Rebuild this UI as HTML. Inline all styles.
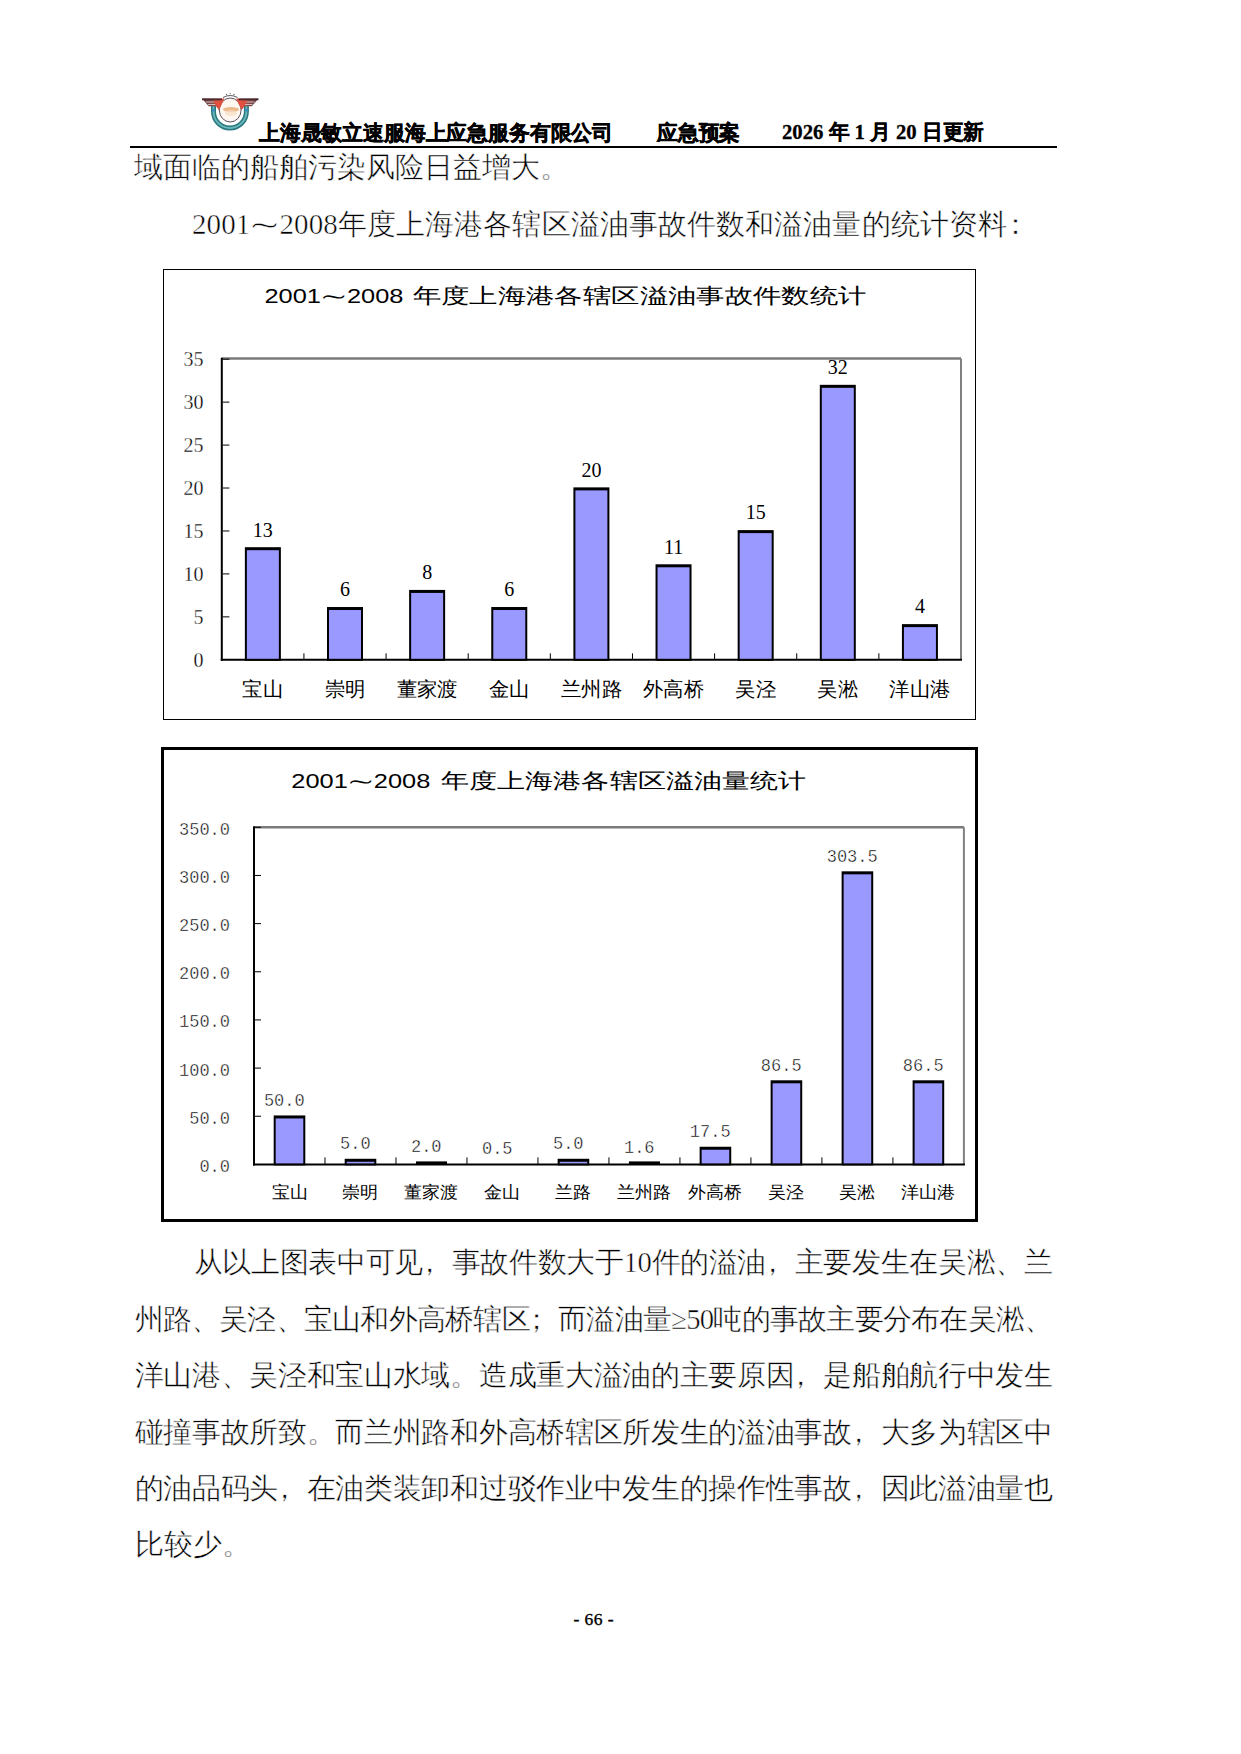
<!DOCTYPE html><html><head><meta charset="utf-8"><style>html,body{margin:0;padding:0;background:#fff;width:1241px;height:1754px;overflow:hidden}svg{display:block}</style></head><body>
<svg width="1241" height="1754" viewBox="0 0 1241 1754">
<g id="logo">
<defs><linearGradient id="wl" x1="0" x2="1" y1="0" y2="0"><stop offset="0" stop-color="#5a3a3e"/><stop offset="0.45" stop-color="#8a4a48"/><stop offset="1" stop-color="#e85a48"/></linearGradient>
<linearGradient id="wr" x1="1" x2="0" y1="0" y2="0"><stop offset="0" stop-color="#5a3a3e"/><stop offset="0.45" stop-color="#8a4a48"/><stop offset="1" stop-color="#e85a48"/></linearGradient></defs>
<path d="M213.5 105 L213.5 111.5 A16.45 16.6 0 0 0 246.4 111.5 L246.4 105" fill="none" stroke="#2a7a80" stroke-width="5"/>
<path d="M213.5 106 L213.5 111.5 A16.45 16.6 0 0 0 246.4 111.5 L246.4 106" fill="none" stroke="#6cb8bc" stroke-width="1.8"/>
<circle cx="213.4" cy="110.3" r="1.3" fill="#3a8cc8"/>
<circle cx="246.6" cy="110.3" r="1.3" fill="#3a8cc8"/>
<ellipse cx="230.2" cy="110" rx="10.9" ry="12" fill="#fdf7ef" stroke="#5a5060" stroke-width="1"/>
<ellipse cx="231" cy="109.5" rx="8" ry="2.6" fill="#e8b07c" opacity="0.85"/>
<ellipse cx="231" cy="113" rx="6" ry="3" fill="#f6dcc0" opacity="0.7"/>
<path d="M202 98.5 L224.5 98.5 L219 110 L216 106.3 L208.7 106.3 Z" fill="url(#wl)"/>
<path d="M206 102 L214.5 102 M208 104.5 L215.5 104.5" stroke="#d8cccc" stroke-width="0.9"/>
<path d="M213 100.5 L223 100.5 L218.8 109.5 Z" fill="#e5503e" opacity="0.9"/>
<path d="M258.5 98.5 L236 98.5 L241.5 110 L244.5 106.3 L251.8 106.3 Z" fill="url(#wr)"/>
<path d="M254.5 102 L246 102 M252.5 104.5 L245 104.5" stroke="#d8cccc" stroke-width="0.9"/>
<path d="M247.5 100.5 L237.5 100.5 L241.7 109.5 Z" fill="#e5503e" opacity="0.9"/>
<path d="M202 99.3 L222 99.3 M238.5 99.3 L258.5 99.3" stroke="#4a2a2e" stroke-width="1.8"/>
<path d="M223 97.5 Q230.2 93.5 237.5 97.5" fill="none" stroke="#555" stroke-width="1"/>
<circle cx="226.5" cy="94.5" r="0.7" fill="#666"/><circle cx="230.2" cy="93.6" r="0.7" fill="#666"/><circle cx="234" cy="94.5" r="0.7" fill="#666"/>
</g>
<text x="259" y="139.5" font-family="Liberation Serif, serif" font-size="21" font-weight="bold" stroke="#000" stroke-width="0.5" textLength="354" lengthAdjust="spacingAndGlyphs">上海晟敏立速服海上应急服务有限公司</text>
<text x="657" y="139.5" font-family="Liberation Serif, serif" font-size="21" font-weight="bold" stroke="#000" stroke-width="0.5" textLength="83" lengthAdjust="spacingAndGlyphs">应急预案</text>
<text x="782" y="139" font-family="Liberation Serif, serif" font-size="21" font-weight="bold" stroke="#000" stroke-width="0.3" textLength="202" lengthAdjust="spacingAndGlyphs">2026 年 1 月 20 日更新</text>
<rect x="130" y="146" width="927" height="2" fill="#000"/>
<text x="134" y="176.7" font-family="Liberation Serif, serif" font-size="29" stroke="#fff" stroke-width="0.5" textLength="435" lengthAdjust="spacing">域面临的船舶污染风险日益增大。</text>
<text x="192" y="234" font-family="Liberation Serif, serif" font-size="29" stroke="#fff" stroke-width="0.5" textLength="838" lengthAdjust="spacing">2001⁓2008年度上海港各辖区溢油事故件数和溢油量的统计资料<tspan dx="-6">：</tspan></text>
<text x="193.7" y="1272.3" font-family="Liberation Serif, serif" font-size="28.7" stroke="#fff" stroke-width="0.5" textLength="859.3" lengthAdjust="spacing">从以上图表中可见<tspan dx="-8.0">，</tspan><tspan dx="8.0">事</tspan>故件数大于10件的溢油<tspan dx="-8.0">，</tspan><tspan dx="8.0">主</tspan>要发生在吴淞、兰</text>
<text x="134.5" y="1328.7" font-family="Liberation Serif, serif" font-size="28.7" stroke="#fff" stroke-width="0.5" textLength="918.5" lengthAdjust="spacing">州路、吴泾、宝山和外高桥辖区<tspan dx="-8.0">；</tspan><tspan dx="8.0">而</tspan>溢油量≥50吨的事故主要分布在吴淞、</text>
<text x="134.5" y="1385.1" font-family="Liberation Serif, serif" font-size="28.7" stroke="#fff" stroke-width="0.5" textLength="918.5" lengthAdjust="spacing">洋山港、吴泾和宝山水域。造成重大溢油的主要原因<tspan dx="-8.0">，</tspan><tspan dx="8.0">是</tspan>船舶航行中发生</text>
<text x="134.5" y="1441.5" font-family="Liberation Serif, serif" font-size="28.7" stroke="#fff" stroke-width="0.5" textLength="918.5" lengthAdjust="spacing">碰撞事故所致。而兰州路和外高桥辖区所发生的溢油事故<tspan dx="-8.0">，</tspan><tspan dx="8.0">大</tspan>多为辖区中</text>
<text x="134.5" y="1497.9" font-family="Liberation Serif, serif" font-size="28.7" stroke="#fff" stroke-width="0.5" textLength="918.5" lengthAdjust="spacing">的油品码头<tspan dx="-8.0">，</tspan><tspan dx="8.0">在</tspan>油类装卸和过驳作业中发生的操作性事故<tspan dx="-8.0">，</tspan><tspan dx="8.0">因</tspan>此溢油量也</text>
<text x="134.5" y="1554.3" font-family="Liberation Serif, serif" font-size="28.7" stroke="#fff" stroke-width="0.5">比较少。</text>
<text x="573.5" y="1625" font-family="Liberation Serif, serif" font-size="17.5" stroke="#000" stroke-width="0.35" textLength="40" lengthAdjust="spacing">- 66 -</text>
<rect x="163.5" y="269.5" width="812" height="450" fill="none" stroke="#000" stroke-width="1"/>
<text x="264.5" y="303" font-family="Liberation Sans, sans-serif" font-size="20.5" textLength="139" lengthAdjust="spacingAndGlyphs">2001⁓2008</text>
<text x="412.5" y="303" font-family="Liberation Sans, sans-serif" font-size="21" textLength="454" lengthAdjust="spacingAndGlyphs">年度上海港各辖区溢油事故件数统计</text>
<line x1="221.8" y1="358.5" x2="961.0" y2="358.5" stroke="#7a7a7a" stroke-width="2.6"/>
<line x1="961.0" y1="358.5" x2="961.0" y2="659.8" stroke="#808080" stroke-width="2"/>
<line x1="221.8" y1="357.7" x2="221.8" y2="660.8" stroke="#000" stroke-width="2"/>
<line x1="220.8" y1="659.8" x2="962.0" y2="659.8" stroke="#000" stroke-width="2"/>
<text x="203.5" y="666.5" font-family="Liberation Serif, serif" font-size="20" stroke="#fff" stroke-width="0.3" text-anchor="end">0</text>
<line x1="222.8" y1="616.86" x2="229.4" y2="616.86" stroke="#000" stroke-width="1"/>
<text x="203.5" y="623.56" font-family="Liberation Serif, serif" font-size="20" stroke="#fff" stroke-width="0.3" text-anchor="end">5</text>
<line x1="222.8" y1="573.91" x2="229.4" y2="573.91" stroke="#000" stroke-width="1"/>
<text x="203.5" y="580.61" font-family="Liberation Serif, serif" font-size="20" stroke="#fff" stroke-width="0.3" text-anchor="end">10</text>
<line x1="222.8" y1="530.97" x2="229.4" y2="530.97" stroke="#000" stroke-width="1"/>
<text x="203.5" y="537.67" font-family="Liberation Serif, serif" font-size="20" stroke="#fff" stroke-width="0.3" text-anchor="end">15</text>
<line x1="222.8" y1="488.03" x2="229.4" y2="488.03" stroke="#000" stroke-width="1"/>
<text x="203.5" y="494.73" font-family="Liberation Serif, serif" font-size="20" stroke="#fff" stroke-width="0.3" text-anchor="end">20</text>
<line x1="222.8" y1="445.09" x2="229.4" y2="445.09" stroke="#000" stroke-width="1"/>
<text x="203.5" y="451.79" font-family="Liberation Serif, serif" font-size="20" stroke="#fff" stroke-width="0.3" text-anchor="end">25</text>
<line x1="222.8" y1="402.14" x2="229.4" y2="402.14" stroke="#000" stroke-width="1"/>
<text x="203.5" y="408.84" font-family="Liberation Serif, serif" font-size="20" stroke="#fff" stroke-width="0.3" text-anchor="end">30</text>
<line x1="222.8" y1="359.2" x2="229.4" y2="359.2" stroke="#000" stroke-width="1"/>
<text x="203.5" y="365.9" font-family="Liberation Serif, serif" font-size="20" stroke="#fff" stroke-width="0.3" text-anchor="end">35</text>
<line x1="303.93" y1="653.3" x2="303.93" y2="659.8" stroke="#000" stroke-width="1"/>
<line x1="386.07" y1="653.3" x2="386.07" y2="659.8" stroke="#000" stroke-width="1"/>
<line x1="468.2" y1="653.3" x2="468.2" y2="659.8" stroke="#000" stroke-width="1"/>
<line x1="550.33" y1="653.3" x2="550.33" y2="659.8" stroke="#000" stroke-width="1"/>
<line x1="632.47" y1="653.3" x2="632.47" y2="659.8" stroke="#000" stroke-width="1"/>
<line x1="714.6" y1="653.3" x2="714.6" y2="659.8" stroke="#000" stroke-width="1"/>
<line x1="796.73" y1="653.3" x2="796.73" y2="659.8" stroke="#000" stroke-width="1"/>
<line x1="878.87" y1="653.3" x2="878.87" y2="659.8" stroke="#000" stroke-width="1"/>
<rect x="244.87" y="547.2" width="36" height="113.6" fill="#000"/>
<rect x="246.87" y="550.2" width="32" height="108.6" fill="#9999ff"/>
<text x="262.87" y="536.5" font-family="Liberation Serif, serif" font-size="20" text-anchor="middle">13</text>
<text x="262.87" y="696.2" font-family="Liberation Sans, sans-serif" font-size="20" text-anchor="middle" textLength="40.8" lengthAdjust="spacingAndGlyphs">宝山</text>
<rect x="327" y="607.02" width="36" height="53.78" fill="#000"/>
<rect x="329" y="610.02" width="32" height="48.78" fill="#9999ff"/>
<text x="345" y="596.32" font-family="Liberation Serif, serif" font-size="20" text-anchor="middle">6</text>
<text x="345" y="696.2" font-family="Liberation Sans, sans-serif" font-size="20" text-anchor="middle" textLength="40.8" lengthAdjust="spacingAndGlyphs">崇明</text>
<rect x="409.13" y="589.93" width="36" height="70.87" fill="#000"/>
<rect x="411.13" y="592.93" width="32" height="65.87" fill="#9999ff"/>
<text x="427.13" y="579.23" font-family="Liberation Serif, serif" font-size="20" text-anchor="middle">8</text>
<text x="427.13" y="696.2" font-family="Liberation Sans, sans-serif" font-size="20" text-anchor="middle" textLength="61.2" lengthAdjust="spacingAndGlyphs">董家渡</text>
<rect x="491.27" y="607.02" width="36" height="53.78" fill="#000"/>
<rect x="493.27" y="610.02" width="32" height="48.78" fill="#9999ff"/>
<text x="509.27" y="596.32" font-family="Liberation Serif, serif" font-size="20" text-anchor="middle">6</text>
<text x="509.27" y="696.2" font-family="Liberation Sans, sans-serif" font-size="20" text-anchor="middle" textLength="40.8" lengthAdjust="spacingAndGlyphs">金山</text>
<rect x="573.4" y="487.38" width="36" height="173.42" fill="#000"/>
<rect x="575.4" y="490.38" width="32" height="168.42" fill="#9999ff"/>
<text x="591.4" y="476.68" font-family="Liberation Serif, serif" font-size="20" text-anchor="middle">20</text>
<text x="591.4" y="696.2" font-family="Liberation Sans, sans-serif" font-size="20" text-anchor="middle" textLength="61.2" lengthAdjust="spacingAndGlyphs">兰州路</text>
<rect x="655.53" y="564.29" width="36" height="96.51" fill="#000"/>
<rect x="657.53" y="567.29" width="32" height="91.51" fill="#9999ff"/>
<text x="673.53" y="553.59" font-family="Liberation Serif, serif" font-size="20" text-anchor="middle">11</text>
<text x="673.53" y="696.2" font-family="Liberation Sans, sans-serif" font-size="20" text-anchor="middle" textLength="61.2" lengthAdjust="spacingAndGlyphs">外高桥</text>
<rect x="737.67" y="530.11" width="36" height="130.69" fill="#000"/>
<rect x="739.67" y="533.11" width="32" height="125.69" fill="#9999ff"/>
<text x="755.67" y="519.41" font-family="Liberation Serif, serif" font-size="20" text-anchor="middle">15</text>
<text x="755.67" y="696.2" font-family="Liberation Sans, sans-serif" font-size="20" text-anchor="middle" textLength="40.8" lengthAdjust="spacingAndGlyphs">吴泾</text>
<rect x="819.8" y="384.83" width="36" height="275.97" fill="#000"/>
<rect x="821.8" y="387.83" width="32" height="270.97" fill="#9999ff"/>
<text x="837.8" y="374.13" font-family="Liberation Serif, serif" font-size="20" text-anchor="middle">32</text>
<text x="837.8" y="696.2" font-family="Liberation Sans, sans-serif" font-size="20" text-anchor="middle" textLength="40.8" lengthAdjust="spacingAndGlyphs">吴淞</text>
<rect x="901.93" y="624.12" width="36" height="36.68" fill="#000"/>
<rect x="903.93" y="627.12" width="32" height="31.68" fill="#9999ff"/>
<text x="919.93" y="613.42" font-family="Liberation Serif, serif" font-size="20" text-anchor="middle">4</text>
<text x="919.93" y="696.2" font-family="Liberation Sans, sans-serif" font-size="20" text-anchor="middle" textLength="61.2" lengthAdjust="spacingAndGlyphs">洋山港</text>
<rect x="162.5" y="748.5" width="814" height="472" fill="none" stroke="#000" stroke-width="3"/>
<text x="291.3" y="788.2" font-family="Liberation Sans, sans-serif" font-size="20.5" textLength="139" lengthAdjust="spacingAndGlyphs">2001⁓2008</text>
<text x="441.3" y="788.2" font-family="Liberation Sans, sans-serif" font-size="21" textLength="364.5" lengthAdjust="spacingAndGlyphs">年度上海港各辖区溢油量统计</text>
<line x1="254.0" y1="827.3" x2="963.9" y2="827.3" stroke="#7a7a7a" stroke-width="2.4"/>
<line x1="963.9" y1="827.3" x2="963.9" y2="1164.4" stroke="#808080" stroke-width="2"/>
<line x1="254.0" y1="826.3" x2="254.0" y2="1165.4" stroke="#000" stroke-width="2"/>
<line x1="253.0" y1="1164.4" x2="964.9" y2="1164.4" stroke="#000" stroke-width="2"/>
<text x="230" y="1171.9" font-family="Liberation Mono, monospace" font-size="19" stroke="#fff" stroke-width="0.45" text-anchor="end" textLength="30.6" lengthAdjust="spacingAndGlyphs">0.0</text>
<line x1="255.0" y1="1116.24" x2="261.0" y2="1116.24" stroke="#000" stroke-width="1"/>
<text x="230" y="1123.74" font-family="Liberation Mono, monospace" font-size="19" stroke="#fff" stroke-width="0.45" text-anchor="end" textLength="40.8" lengthAdjust="spacingAndGlyphs">50.0</text>
<line x1="255.0" y1="1068.09" x2="261.0" y2="1068.09" stroke="#000" stroke-width="1"/>
<text x="230" y="1075.59" font-family="Liberation Mono, monospace" font-size="19" stroke="#fff" stroke-width="0.45" text-anchor="end" textLength="51" lengthAdjust="spacingAndGlyphs">100.0</text>
<line x1="255.0" y1="1019.93" x2="261.0" y2="1019.93" stroke="#000" stroke-width="1"/>
<text x="230" y="1027.43" font-family="Liberation Mono, monospace" font-size="19" stroke="#fff" stroke-width="0.45" text-anchor="end" textLength="51" lengthAdjust="spacingAndGlyphs">150.0</text>
<line x1="255.0" y1="971.77" x2="261.0" y2="971.77" stroke="#000" stroke-width="1"/>
<text x="230" y="979.27" font-family="Liberation Mono, monospace" font-size="19" stroke="#fff" stroke-width="0.45" text-anchor="end" textLength="51" lengthAdjust="spacingAndGlyphs">200.0</text>
<line x1="255.0" y1="923.61" x2="261.0" y2="923.61" stroke="#000" stroke-width="1"/>
<text x="230" y="931.11" font-family="Liberation Mono, monospace" font-size="19" stroke="#fff" stroke-width="0.45" text-anchor="end" textLength="51" lengthAdjust="spacingAndGlyphs">250.0</text>
<line x1="255.0" y1="875.46" x2="261.0" y2="875.46" stroke="#000" stroke-width="1"/>
<text x="230" y="882.96" font-family="Liberation Mono, monospace" font-size="19" stroke="#fff" stroke-width="0.45" text-anchor="end" textLength="51" lengthAdjust="spacingAndGlyphs">300.0</text>
<line x1="255.0" y1="827.3" x2="261.0" y2="827.3" stroke="#000" stroke-width="1"/>
<text x="230" y="834.8" font-family="Liberation Mono, monospace" font-size="19" stroke="#fff" stroke-width="0.45" text-anchor="end" textLength="51" lengthAdjust="spacingAndGlyphs">350.0</text>
<line x1="324.99" y1="1157.4" x2="324.99" y2="1164.4" stroke="#000" stroke-width="1"/>
<line x1="395.98" y1="1157.4" x2="395.98" y2="1164.4" stroke="#000" stroke-width="1"/>
<line x1="466.97" y1="1157.4" x2="466.97" y2="1164.4" stroke="#000" stroke-width="1"/>
<line x1="537.96" y1="1157.4" x2="537.96" y2="1164.4" stroke="#000" stroke-width="1"/>
<line x1="608.95" y1="1157.4" x2="608.95" y2="1164.4" stroke="#000" stroke-width="1"/>
<line x1="679.94" y1="1157.4" x2="679.94" y2="1164.4" stroke="#000" stroke-width="1"/>
<line x1="750.93" y1="1157.4" x2="750.93" y2="1164.4" stroke="#000" stroke-width="1"/>
<line x1="821.92" y1="1157.4" x2="821.92" y2="1164.4" stroke="#000" stroke-width="1"/>
<line x1="892.91" y1="1157.4" x2="892.91" y2="1164.4" stroke="#000" stroke-width="1"/>
<rect x="273.69" y="1115.45" width="31.6" height="49.95" fill="#000"/>
<rect x="275.69" y="1118.45" width="27.6" height="44.95" fill="#9999ff"/>
<text x="284.3" y="1106.05" font-family="Liberation Mono, monospace" font-size="19" stroke="#fff" stroke-width="0.45" text-anchor="middle" textLength="40.8" lengthAdjust="spacingAndGlyphs">50.0</text>
<text x="289.5" y="1198" font-family="Liberation Sans, sans-serif" font-size="17" text-anchor="middle" textLength="36" lengthAdjust="spacingAndGlyphs">宝山</text>
<rect x="344.69" y="1158.78" width="31.6" height="6.62" fill="#000"/>
<rect x="346.69" y="1161.78" width="27.6" height="1.62" fill="#9999ff"/>
<text x="355.29" y="1149.38" font-family="Liberation Mono, monospace" font-size="19" stroke="#fff" stroke-width="0.45" text-anchor="middle" textLength="30.6" lengthAdjust="spacingAndGlyphs">5.0</text>
<text x="360.49" y="1198" font-family="Liberation Sans, sans-serif" font-size="17" text-anchor="middle" textLength="36" lengthAdjust="spacingAndGlyphs">崇明</text>
<rect x="415.98" y="1161.4" width="31" height="3" fill="#000"/>
<text x="426.28" y="1152.27" font-family="Liberation Mono, monospace" font-size="19" stroke="#fff" stroke-width="0.45" text-anchor="middle" textLength="30.6" lengthAdjust="spacingAndGlyphs">2.0</text>
<text x="431.48" y="1198" font-family="Liberation Sans, sans-serif" font-size="17" text-anchor="middle" textLength="54" lengthAdjust="spacingAndGlyphs">董家渡</text>
<text x="497.26" y="1153.72" font-family="Liberation Mono, monospace" font-size="19" stroke="#fff" stroke-width="0.45" text-anchor="middle" textLength="30.6" lengthAdjust="spacingAndGlyphs">0.5</text>
<text x="502.46" y="1198" font-family="Liberation Sans, sans-serif" font-size="17" text-anchor="middle" textLength="36" lengthAdjust="spacingAndGlyphs">金山</text>
<rect x="557.65" y="1158.78" width="31.6" height="6.62" fill="#000"/>
<rect x="559.65" y="1161.78" width="27.6" height="1.62" fill="#9999ff"/>
<text x="568.25" y="1149.38" font-family="Liberation Mono, monospace" font-size="19" stroke="#fff" stroke-width="0.45" text-anchor="middle" textLength="30.6" lengthAdjust="spacingAndGlyphs">5.0</text>
<text x="573.45" y="1198" font-family="Liberation Sans, sans-serif" font-size="17" text-anchor="middle" textLength="36" lengthAdjust="spacingAndGlyphs">兰路</text>
<rect x="628.94" y="1161.4" width="31" height="3" fill="#000"/>
<text x="639.24" y="1152.66" font-family="Liberation Mono, monospace" font-size="19" stroke="#fff" stroke-width="0.45" text-anchor="middle" textLength="30.6" lengthAdjust="spacingAndGlyphs">1.6</text>
<text x="644.44" y="1198" font-family="Liberation Sans, sans-serif" font-size="17" text-anchor="middle" textLength="54" lengthAdjust="spacingAndGlyphs">兰州路</text>
<rect x="699.63" y="1146.75" width="31.6" height="18.65" fill="#000"/>
<rect x="701.63" y="1149.75" width="27.6" height="13.65" fill="#9999ff"/>
<text x="710.23" y="1137.35" font-family="Liberation Mono, monospace" font-size="19" stroke="#fff" stroke-width="0.45" text-anchor="middle" textLength="40.8" lengthAdjust="spacingAndGlyphs">17.5</text>
<text x="715.43" y="1198" font-family="Liberation Sans, sans-serif" font-size="17" text-anchor="middle" textLength="54" lengthAdjust="spacingAndGlyphs">外高桥</text>
<rect x="770.62" y="1080.3" width="31.6" height="85.1" fill="#000"/>
<rect x="772.62" y="1083.3" width="27.6" height="80.1" fill="#9999ff"/>
<text x="781.22" y="1070.9" font-family="Liberation Mono, monospace" font-size="19" stroke="#fff" stroke-width="0.45" text-anchor="middle" textLength="40.8" lengthAdjust="spacingAndGlyphs">86.5</text>
<text x="786.42" y="1198" font-family="Liberation Sans, sans-serif" font-size="17" text-anchor="middle" textLength="36" lengthAdjust="spacingAndGlyphs">吴泾</text>
<rect x="841.62" y="871.33" width="31.6" height="294.07" fill="#000"/>
<rect x="843.62" y="874.33" width="27.6" height="289.07" fill="#9999ff"/>
<text x="852.21" y="861.93" font-family="Liberation Mono, monospace" font-size="19" stroke="#fff" stroke-width="0.45" text-anchor="middle" textLength="51" lengthAdjust="spacingAndGlyphs">303.5</text>
<text x="857.41" y="1198" font-family="Liberation Sans, sans-serif" font-size="17" text-anchor="middle" textLength="36" lengthAdjust="spacingAndGlyphs">吴淞</text>
<rect x="912.61" y="1080.3" width="31.6" height="85.1" fill="#000"/>
<rect x="914.61" y="1083.3" width="27.6" height="80.1" fill="#9999ff"/>
<text x="923.2" y="1070.9" font-family="Liberation Mono, monospace" font-size="19" stroke="#fff" stroke-width="0.45" text-anchor="middle" textLength="40.8" lengthAdjust="spacingAndGlyphs">86.5</text>
<text x="928.4" y="1198" font-family="Liberation Sans, sans-serif" font-size="17" text-anchor="middle" textLength="54" lengthAdjust="spacingAndGlyphs">洋山港</text>
</svg></body></html>
